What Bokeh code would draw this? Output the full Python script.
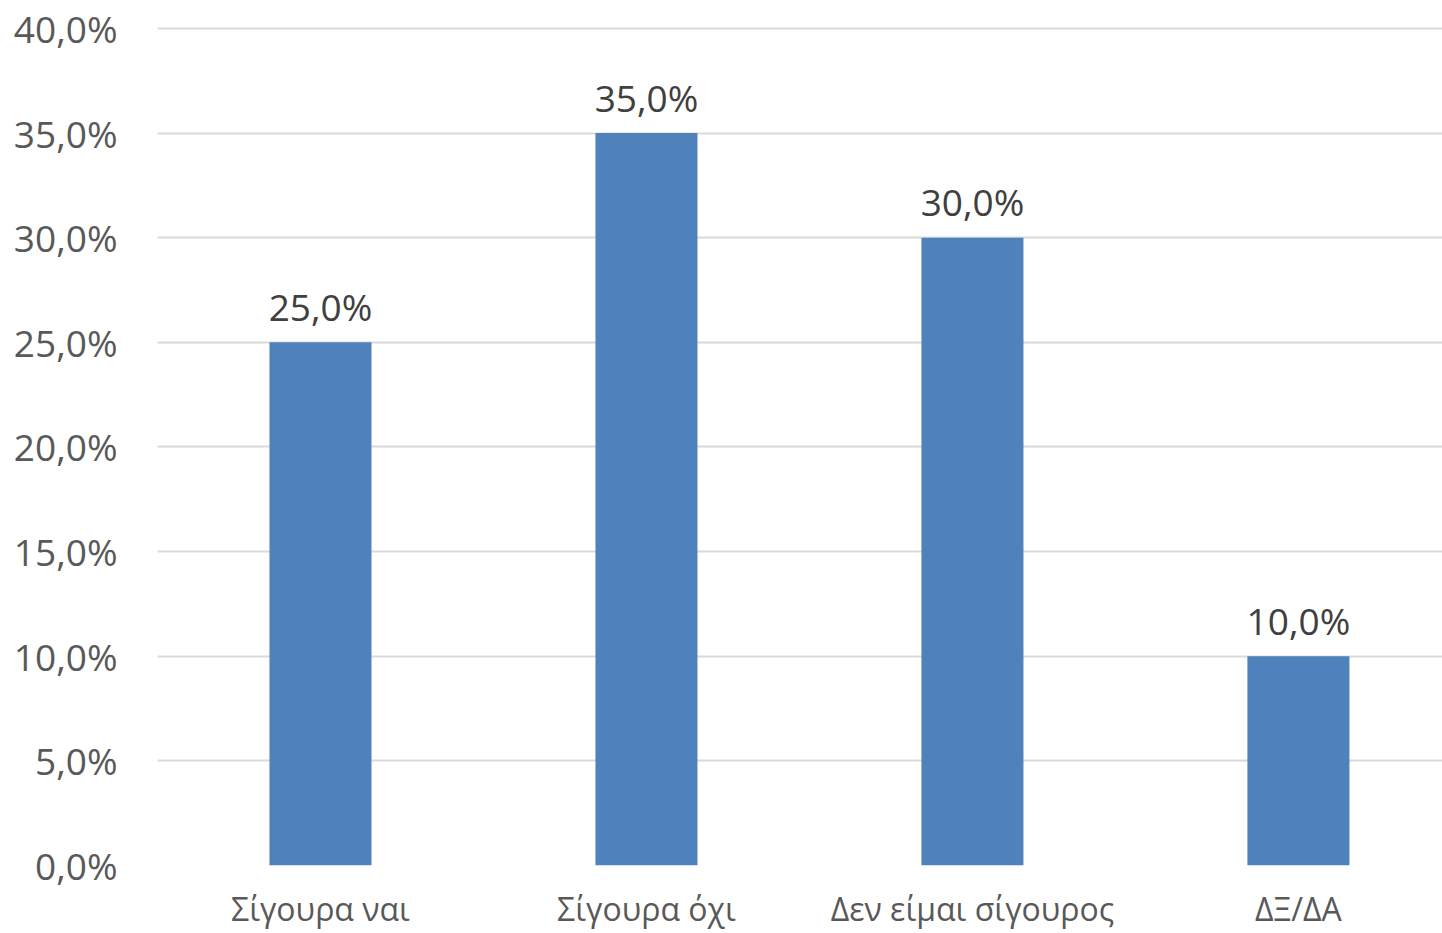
from bokeh.plotting import figure
from bokeh.models import ColumnDataSource, FixedTicker, Range1d
from bokeh.core.properties import value
from bokeh.embed import file_html
from bokeh.resources import INLINE

categories = ["Σίγουρα ναι", "Σίγουρα όχι", "Δεν είμαι σίγουρος", "ΔΞ/ΔΑ"]
values = [25.0, 35.0, 30.0, 10.0]
value_labels = ["25,0%", "35,0%", "30,0%", "10,0%"]
y_ticks = [0, 5, 10, 15, 20, 25, 30, 35, 40]
y_tick_labels = ["0,0%", "5,0%", "10,0%", "15,0%", "20,0%", "25,0%", "30,0%", "35,0%", "40,0%"]

FONT = "Open Sans"
xs = [i + 0.5 for i in range(len(categories))]

src = ColumnDataSource(dict(x=xs, top=values, lab=value_labels))

p = figure(width=1442, height=933, output_backend="svg", toolbar_location=None,
           x_range=Range1d(0, 3.942), y_range=Range1d(0, 40.86),
           min_border_left=157, min_border_right=0, min_border_top=10, min_border_bottom=68)
p.outline_line_color = None
p.background_fill_color = "white"
p.border_fill_color = "white"

p.vbar(x="x", top="top", width=0.313, bottom=0, source=src,
       fill_color="#4F81BD", line_color=None)
p.text(x="x", y="top", text="lab", source=src, text_align="center",
       text_baseline="alphabetic", y_offset=-36, text_font=value(FONT),
       text_font_size="37px", text_color="#404040")

# y axis
p.yaxis.ticker = FixedTicker(ticks=y_ticks)
p.yaxis.major_label_overrides = {t: l for t, l in zip(y_ticks, y_tick_labels)}
p.yaxis.axis_line_color = None
p.yaxis.major_tick_line_color = None
p.yaxis.minor_tick_line_color = None
p.yaxis.major_tick_out = 0
p.yaxis.major_label_standoff = 40
p.yaxis.major_label_text_font = FONT
p.yaxis.major_label_text_font_size = "37px"
p.yaxis.major_label_text_color = "#595959"

# x axis
p.xaxis.ticker = FixedTicker(ticks=xs)
p.xaxis.major_label_overrides = {x: c for x, c in zip(xs, categories)}
p.xaxis.axis_line_color = None
p.xaxis.major_tick_line_color = None
p.xaxis.minor_tick_line_color = None
p.xaxis.major_tick_out = 0
p.xaxis.major_label_standoff = 21
p.xaxis.major_label_text_font = FONT
p.xaxis.major_label_text_font_size = "32px"
p.xaxis.major_label_text_color = "#595959"

p.xgrid.grid_line_color = None
p.ygrid.ticker = FixedTicker(ticks=y_ticks)
p.ygrid.grid_line_color = "#D9D9D9"
p.ygrid.grid_line_width = 2

open("out.html", "w").write(file_html(p, INLINE))
